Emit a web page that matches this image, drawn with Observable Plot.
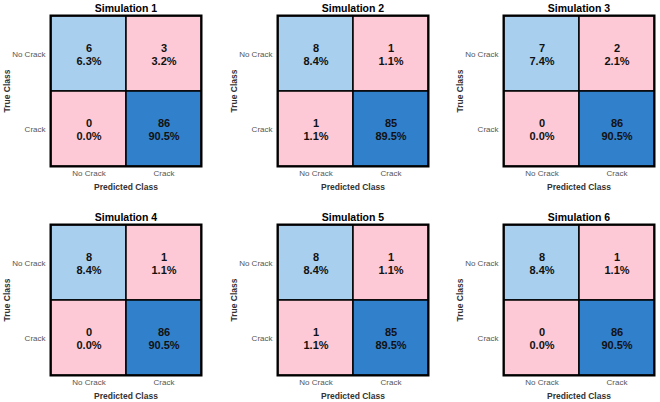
<!DOCTYPE html>
<html>
<head>
<meta charset="utf-8">
<script src="https://cdn.jsdelivr.net/npm/d3@7"></script>
<script src="https://cdn.jsdelivr.net/npm/@observablehq/plot@0.6"></script>
<style>
  body { margin: 0; background: #fff; }
  #chart { position: relative; width: 660px; height: 402px; overflow: hidden; }
  #chart > svg { position: absolute; overflow: visible; }
</style>
</head>
<body>
<div id="chart"></div>
<script>
const simulations = ["Simulation 1", "Simulation 2", "Simulation 3", "Simulation 4", "Simulation 5", "Simulation 6"];
const classes = ["No Crack", "Crack"];
// counts: [true class][predicted class]
const noCrackAsNoCrack = [6, 8, 7, 8, 8, 8];
const noCrackAsCrack   = [3, 1, 2, 1, 1, 1];
const crackAsNoCrack   = [0, 1, 0, 0, 1, 0];
const crackAsCrack     = [86, 85, 86, 86, 85, 86];
const pctNoCrackAsNoCrack = ["6.3%", "8.4%", "7.4%", "8.4%", "8.4%", "8.4%"];
const pctNoCrackAsCrack   = ["3.2%", "1.1%", "2.1%", "1.1%", "1.1%", "1.1%"];
const pctCrackAsNoCrack   = ["0.0%", "1.1%", "0.0%", "0.0%", "1.1%", "0.0%"];
const pctCrackAsCrack     = ["90.5%", "89.5%", "90.5%", "90.5%", "89.5%", "90.5%"];

const container = document.getElementById("chart");
const W = 207, H = 195;
const colX = [0, 227, 453];
const rowY = [0, 209];

simulations.forEach((title, i) => {
  const data = [
    {truth: "No Crack", pred: "No Crack", count: noCrackAsNoCrack[i], pct: pctNoCrackAsNoCrack[i], kind: "tn"},
    {truth: "No Crack", pred: "Crack", count: noCrackAsCrack[i], pct: pctNoCrackAsCrack[i], kind: "err"},
    {truth: "Crack", pred: "No Crack", count: crackAsNoCrack[i], pct: pctCrackAsNoCrack[i], kind: "err"},
    {truth: "Crack", pred: "Crack", count: crackAsCrack[i], pct: pctCrackAsCrack[i], kind: "tp"}
  ];
  const svg = Plot.plot({
    width: W, height: H,
    marginLeft: 50, marginRight: 6, marginTop: 15, marginBottom: 29,
    style: {fontFamily: "'Liberation Sans', Arial, sans-serif", background: "transparent", overflow: "visible"},
    x: {domain: classes, padding: 0},
    y: {domain: classes, padding: 0},
    color: {domain: ["tn", "tp", "err"], range: ["#a8cfee", "#3180cc", "#fdc9d6"]},
    marks: [
      Plot.cell(data, {x: "pred", y: "truth", fill: "kind", stroke: "black", strokeWidth: 1.5, inset: 0}),
      Plot.text(data, {x: "pred", y: "truth", text: d => `${d.count}\n${d.pct}`, fontSize: 11, fontWeight: "bold", lineHeight: 1.2, fill: "#111"}),
      Plot.frame({stroke: "black", strokeWidth: 2}),
      Plot.axisX({tickSize: 0, tickPadding: 4, fontSize: 8, color: "#555", label: "Predicted Class", labelAnchor: "center", labelOffset: 23}),
      Plot.axisY({tickSize: 0, tickPadding: 5, fontSize: 8, color: "#555", label: "True Class", labelAnchor: "center", labelOffset: 47}),
      Plot.text([title], {frameAnchor: "top", lineAnchor: "middle", dy: -7, text: d => d, fontSize: 10.5, fontWeight: "bold", fill: "black"})
    ]
  });
  d3.select(svg).selectAll('g[aria-label="x-axis label"] text, g[aria-label="y-axis label"] text')
    .attr("font-weight", "bold").attr("font-size", 8.5).attr("fill", "#333");
  svg.style.left = colX[i % 3] + "px";
  svg.style.top = rowY[Math.floor(i / 3)] + "px";
  container.appendChild(svg);
});
</script>
</body>
</html>
